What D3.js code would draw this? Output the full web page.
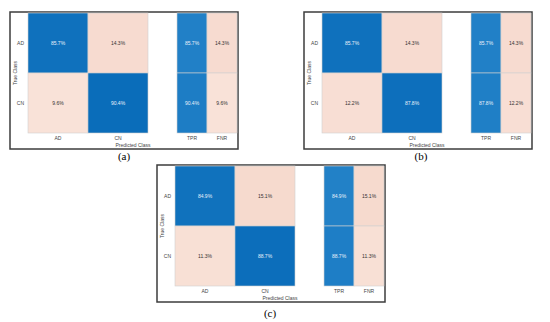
<!DOCTYPE html>
<meta charset="utf-8">
<style>
body { margin: 0; background: #fff; }
text { font-family: "Liberation Sans", Arial, sans-serif; }
.frame { fill: #fff; stroke: #3c3c3c; stroke-width: 1.5px; }
.cell { stroke: #cfcfcf; stroke-width: 0.6px; }
.tick { font-size: 5px; fill: #444; }
.caption { font-family: "Liberation Serif", "Times New Roman", serif; font-size: 11px; fill: #000; }
</style>
<svg width="550" height="322"></svg>
<script src="https://d3js.org/d3.v7.min.js"></script>
<script>
// data
var classes = ["AD", "CN"];
var summaryCols = ["TPR", "FNR"];
var panelNames = ["(a)", "(b)", "(c)"];
// rows = true class, cols = predicted class (percent)
var matA = [[85.7, 14.3], [9.6, 90.4]];
var matB = [[85.7, 14.3], [12.2, 87.8]];
var matC = [[84.9, 15.1], [11.3, 88.7]];
// rows = true class, cols = TPR, FNR
var sumA = [[85.7, 14.3], [90.4, 9.6]];
var sumB = [[85.7, 14.3], [87.8, 12.2]];
var sumC = [[84.9, 15.1], [88.7, 11.3]];

var panels = [
  {name: panelNames[0], mat: matA, sum: sumA, x: 10, y: 12, cx: 124, cy: 160},
  {name: panelNames[1], mat: matB, sum: sumB, x: 304, y: 12, cx: 421, cy: 160},
  {name: panelNames[2], mat: matC, sum: sumC, x: 157, y: 165, cx: 270, cy: 317}
];

var svg = d3.select("svg");
var fw = 228, fh = 137;

var x = d3.scaleBand().domain(classes).range([18, 138]);
var xs = d3.scaleBand().domain(summaryCols).range([167, 227]);
var y = d3.scaleBand().domain(classes).range([1, 121]);

var diagColor = d3.scaleLinear().domain([80, 95]).range(["#1676c0", "#0469b8"]);
var tprColor = d3.scaleLinear().domain([80, 95]).range(["#2785c9", "#1879c3"]);
var offColor = d3.scaleLinear().domain([5, 20]).range(["#fbe9e1", "#f4d3c5"]);

panels.forEach(function(p) {
  var g = svg.append("g").attr("transform", "translate(" + p.x + "," + p.y + ")");
  g.append("rect").attr("class", "frame").attr("width", fw).attr("height", fh);

  var cells = [];
  p.mat.forEach(function(row, i) {
    row.forEach(function(v, j) { cells.push({r: classes[i], c: classes[j], v: v, diag: i === j}); });
  });
  g.selectAll(".mcell").data(cells).enter().append("rect")
      .attr("class", "cell")
      .attr("x", function(d) { return x(d.c); })
      .attr("y", function(d) { return y(d.r); })
      .attr("width", x.bandwidth())
      .attr("height", y.bandwidth())
      .attr("fill", function(d) { return d.diag ? diagColor(d.v) : offColor(d.v); });
  g.selectAll(".mlab").data(cells).enter().append("text")
      .attr("class", "tick")
      .attr("x", function(d) { return x(d.c) + x.bandwidth() / 2; })
      .attr("y", function(d) { return y(d.r) + y.bandwidth() / 2 + 2; })
      .attr("text-anchor", "middle")
      .style("fill", function(d) { return d.diag ? "#e8f1fa" : "#333"; })
      .text(function(d) { return d.v.toFixed(1) + "%"; });

  var scells = [];
  p.sum.forEach(function(row, i) {
    row.forEach(function(v, j) { scells.push({r: classes[i], c: summaryCols[j], v: v, tp: j === 0}); });
  });
  g.selectAll(".scell").data(scells).enter().append("rect")
      .attr("class", "cell")
      .attr("x", function(d) { return xs(d.c); })
      .attr("y", function(d) { return y(d.r); })
      .attr("width", xs.bandwidth())
      .attr("height", y.bandwidth())
      .attr("fill", function(d) { return d.tp ? tprColor(d.v) : offColor(d.v); });
  g.selectAll(".slab").data(scells).enter().append("text")
      .attr("class", "tick")
      .attr("x", function(d) { return xs(d.c) + xs.bandwidth() / 2; })
      .attr("y", function(d) { return y(d.r) + y.bandwidth() / 2 + 2; })
      .attr("text-anchor", "middle")
      .style("fill", function(d) { return d.tp ? "#e8f1fa" : "#333"; })
      .text(function(d) { return d.v.toFixed(1) + "%"; });

  // row tick labels
  g.selectAll(".rlab").data(classes).enter().append("text")
      .attr("class", "tick")
      .attr("x", x.range()[0] - 4)
      .attr("y", function(d) { return y(d) + y.bandwidth() / 2 + 2; })
      .attr("text-anchor", "end")
      .text(function(d) { return d; });
  // column tick labels
  g.selectAll(".clab").data(classes).enter().append("text")
      .attr("class", "tick")
      .attr("x", function(d) { return x(d) + x.bandwidth() / 2; })
      .attr("y", y.range()[1] + 7)
      .attr("text-anchor", "middle")
      .text(function(d) { return d; });
  g.selectAll(".sclab").data(summaryCols).enter().append("text")
      .attr("class", "tick")
      .attr("x", function(d) { return xs(d) + xs.bandwidth() / 2; })
      .attr("y", y.range()[1] + 7)
      .attr("text-anchor", "middle")
      .text(function(d) { return d; });

  g.append("text").attr("class", "tick")
      .attr("x", x.range()[0] + 105)
      .attr("y", y.range()[1] + 14)
      .attr("text-anchor", "middle")
      .text("Predicted Class");
  g.append("text").attr("class", "tick")
      .attr("transform", "translate(7," + (y.range()[0] + y.range()[1]) / 2 + ") rotate(-90)")
      .attr("text-anchor", "middle")
      .text("True Class");

  svg.append("text").attr("class", "caption")
      .attr("x", p.cx).attr("y", p.cy)
      .attr("text-anchor", "middle")
      .text(p.name);
});
</script>
